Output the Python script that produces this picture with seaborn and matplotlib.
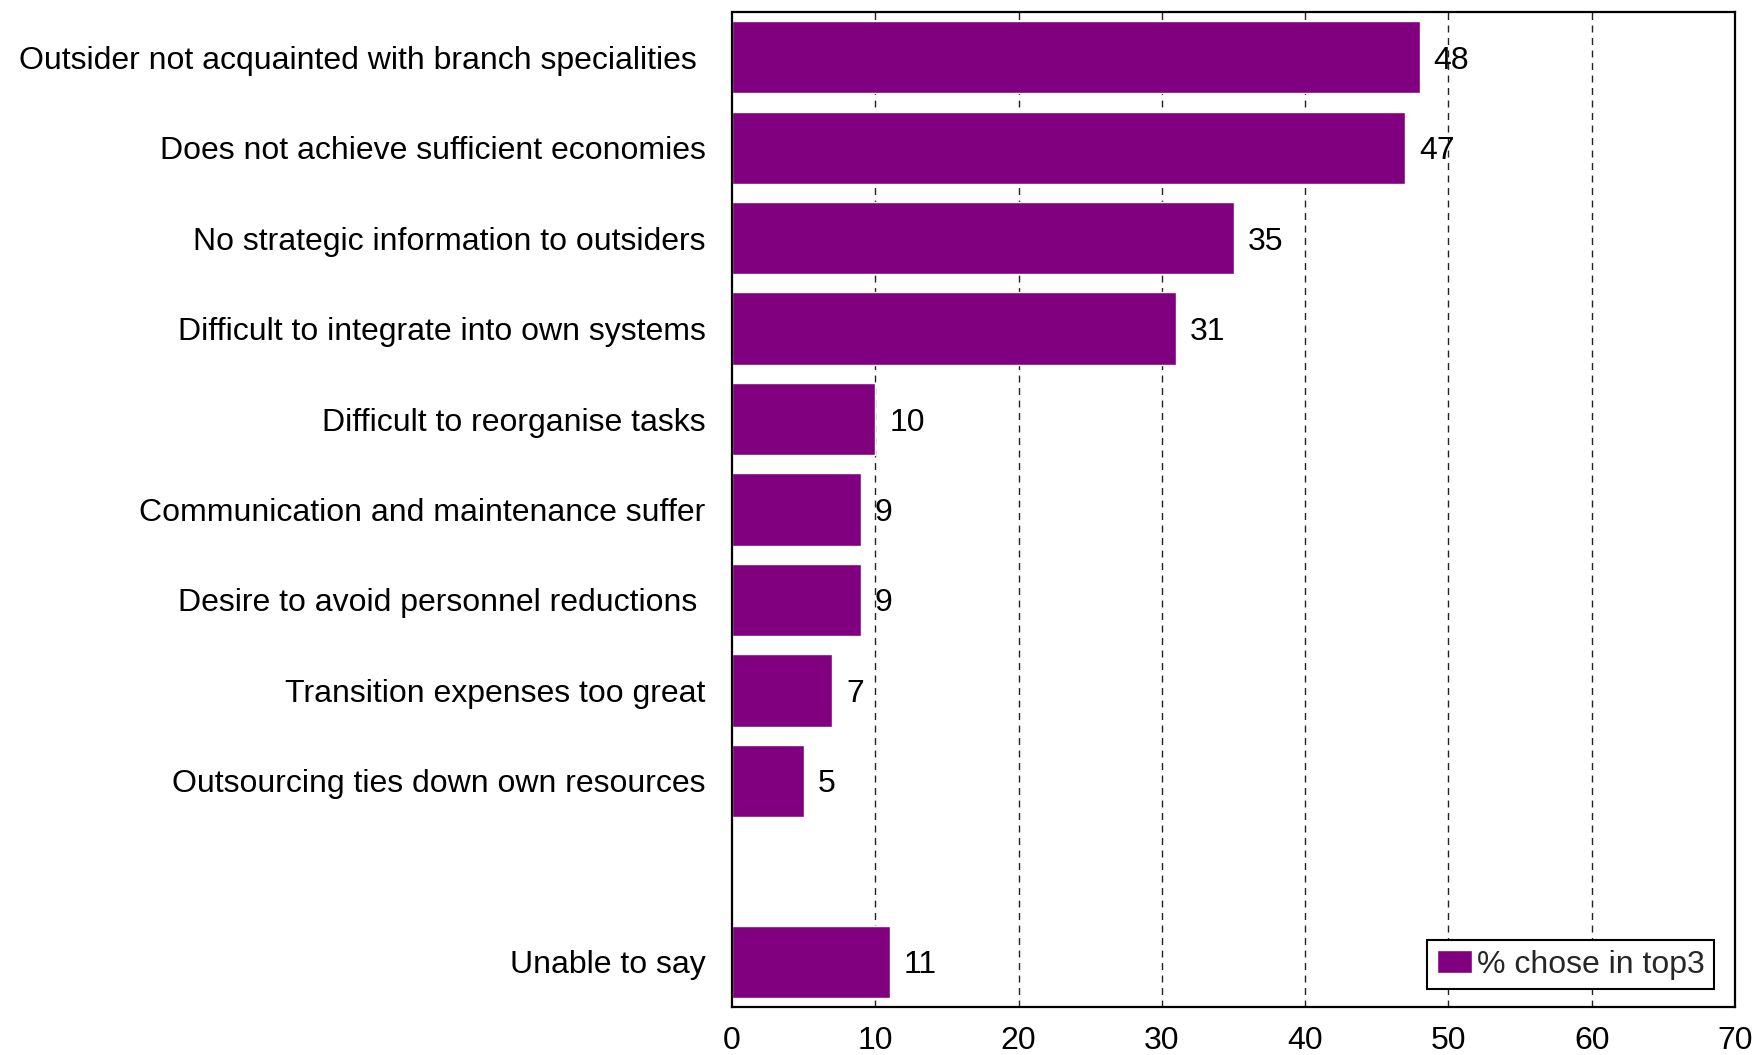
import matplotlib
matplotlib.use("Agg")
import matplotlib.pyplot as plt
import seaborn as sns
import pandas as pd
import numpy as np

categories = [
    "Outsider not acquainted with branch specialities ",
    "Does not achieve sufficient economies",
    "No strategic information to outsiders",
    "Difficult to integrate into own systems",
    "Difficult to reorganise tasks",
    "Communication and maintenance suffer",
    "Desire to avoid personnel reductions ",
    "Transition expenses too great",
    "Outsourcing ties down own resources",
    "",
    "Unable to say",
]
values = [48, 47, 35, 31, 10, 9, 9, 7, 5, np.nan, 11]
series_name = "% chose in top3"
x_ticks = [0, 10, 20, 30, 40, 50, 60, 70]

sns.set_theme(style="white")
plt.rcParams["font.family"] = ["Liberation Sans", "DejaVu Sans"]

FS = 23

df = pd.DataFrame({"reason": categories, "pct": values, "series": series_name})

fig = plt.figure(figsize=(17.56, 10.55), dpi=100)
ax = fig.add_axes([0.4169, 0.0455, 0.5711, 0.9431])

sns.barplot(data=df, y="reason", x="pct", hue="series", order=categories,
            palette=["#800080"], orient="h", width=0.8, saturation=1,
            errorbar=None, ax=ax, zorder=2)

ax.set_xlim(0, 70)
ax.set_xticks(x_ticks)
ax.set_xlabel("")
ax.set_ylabel("")
ax.tick_params(axis="x", length=0, pad=14, labelsize=FS, colors="black")
ax.tick_params(axis="y", length=0, pad=19, labelsize=FS, colors="black")

for x in x_ticks[1:-1]:
    ax.axvline(x, color="#222222", lw=1.0, ls=(0, (5, 4)), zorder=1)

for spine in ax.spines.values():
    spine.set_visible(True)
    spine.set_color("black")
    spine.set_linewidth(1.6)

for i, v in enumerate(values):
    if np.isnan(v):
        continue
    ax.annotate(f"{v:g}", xy=(v, i), xytext=(10, 0), textcoords="offset points",
                va="center_baseline", ha="left", fontsize=FS, color="black")

leg = ax.legend(loc="lower right", bbox_to_anchor=(0.979, 0.018), fontsize=FS,
                frameon=True, fancybox=False, edgecolor="black",
                handlelength=1.1, handleheight=0.7, handletextpad=0.15,
                borderpad=0.3, borderaxespad=0)
leg.get_frame().set_linewidth(1.5)
leg.get_frame().set_alpha(1)

fig.savefig("out.png", dpi=100)
